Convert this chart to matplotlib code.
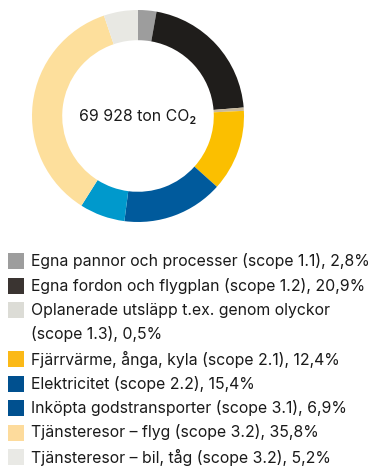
import matplotlib.pyplot as plt
from matplotlib.patches import Rectangle

plt.rcParams['font.family'] = ['Inter', 'DejaVu Sans']

# Emission shares (%) in drawing order, clockwise from 12 o'clock
shares = [2.8, 20.9, 0.5, 12.4, 15.4, 6.9, 35.8, 5.2]
slice_colors = ['#9d9d9d', '#1f1d1b', '#c9b99b', '#fbbf00',
                '#005a9c', '#0099cc', '#fddf9c', '#e8e8e3']
legend_colors = ['#9d9d9d', '#3a3431', '#dcdcd6', '#fbb917',
                 '#00508f', '#00508f', '#fddb9c', '#e9e9e5']
labels = [
    'Egna pannor och processer (scope 1.1)',
    'Egna fordon och flygplan (scope 1.2)',
    'Oplanerade utsläpp t.ex. genom olyckor\n(scope 1.3)',
    'Fjärrvärme, ånga, kyla (scope 2.1)',
    'Elektricitet (scope 2.2)',
    'Inköpta godstransporter (scope 3.1)',
    'Tjänsteresor – flyg (scope 3.2)',
    'Tjänsteresor – bil, tåg (scope 3.2)',
]
total_text = '69 928 ton CO₂'

W, H = 374, 468
fig = plt.figure(figsize=(W / 100, H / 100), dpi=100)

# donut
cx, cy, r = 138, 116, 106
ax = fig.add_axes([(cx - r) / W, (H - cy - r) / H, 2 * r / W, 2 * r / H])
ax.pie(shares, colors=slice_colors, startangle=90, counterclock=False,
       radius=1.0, wedgeprops=dict(width=0.285, linewidth=0))
ax.set_xlim(-1, 1)
ax.set_ylim(-1, 1)
ax.set_aspect('equal')
ax.axis('off')
ax.text(0, 0, total_text, ha='center', va='center', fontsize=11.4, color='#1a1a1a')

# legend below the donut
y = 261
step = 24.5
for lab, val, col in zip(labels, shares, legend_colors):
    lines = (lab + ', ' + f'{val:.1f}'.replace('.', ',') + '%').split('\n')
    fig.add_artist(Rectangle((8 / W, 1 - (y + 8) / H), 16 / W, 16 / H,
                             transform=fig.transFigure, color=col, lw=0))
    for line in lines:
        fig.text(31 / W, 1 - y / H, line, ha='left', va='center',
                 fontsize=11.4, color='#1a1a1a')
        y += step

fig.savefig('out.png', dpi=100)
